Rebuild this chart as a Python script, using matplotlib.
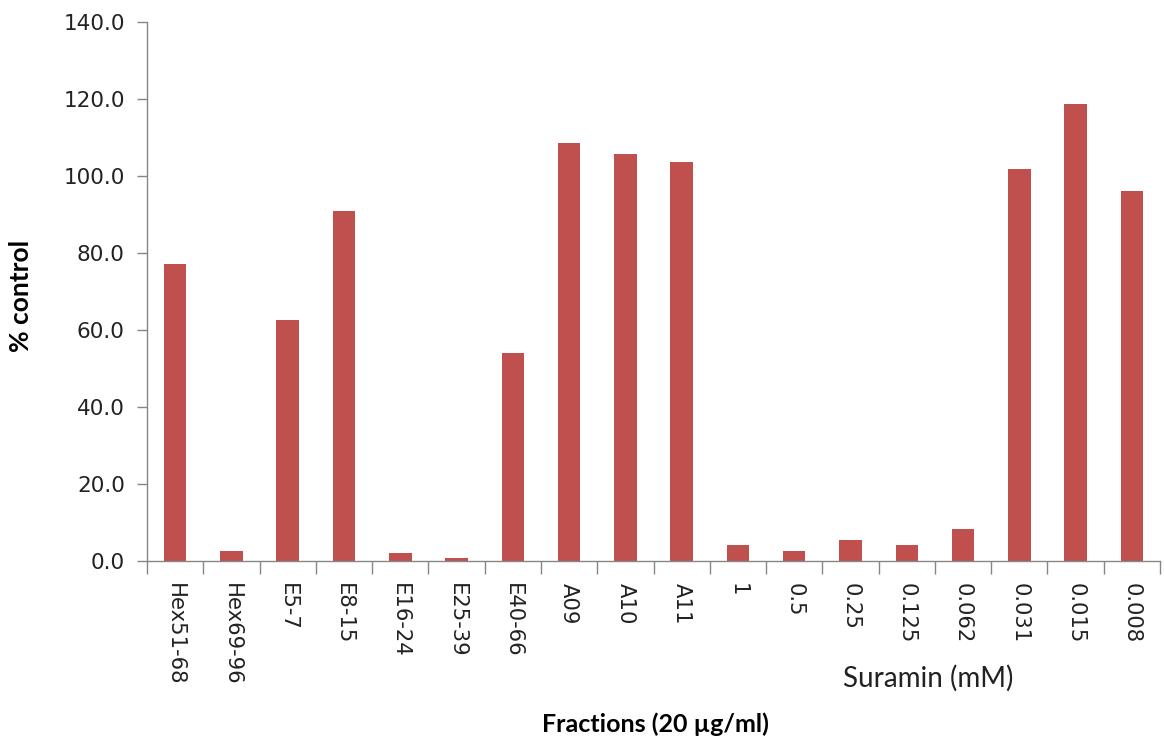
import numpy as np
import matplotlib
matplotlib.use("Agg")
import matplotlib.pyplot as plt

# fractions and suramin concentrations, values as % control
labels = ["Hex51-68", "Hex69-96", "E5-7", "E8-15", "E16-24", "E25-39", "E40-66",
          "A09", "A10", "A11",
          "1", "0.5", "0.25", "0.125", "0.062", "0.031", "0.015", "0.008"]
values = [77.1, 2.5, 62.7, 91.0, 2.1, 0.8, 54.0,
          108.6, 105.6, 103.6,
          4.1, 2.7, 5.4, 4.1, 8.4, 101.9, 118.6, 96.1]

bar_color = "#C0504D"
axis_gray = "#868686"

fig = plt.figure(figsize=(11.64, 7.4), dpi=100)
ax = fig.add_axes([0.1263, 0.2419, 0.8703, 0.7284])

x = np.arange(len(labels))
ax.bar(x, values, width=0.4, color=bar_color, zorder=2)

ax.set_xlim(-0.5, len(labels) - 0.5)
ax.set_ylim(0, 140)
ax.set_yticks(np.arange(0, 141, 20))
ax.set_yticklabels([f"{v:.1f}" for v in np.arange(0, 141, 20)],
                   fontsize=15.5, color="#222222", family="DejaVu Sans")

# category labels centred, ticks on boundaries
ax.set_xticks(x)
ax.set_xticklabels(labels, rotation=270, fontsize=15.2, color="#222222",
                   family="DejaVu Sans", va="top", ha="center")
ax.tick_params(axis="x", which="major", length=0, pad=15.5)
ax.set_xticks(np.arange(-0.5, len(labels), 1), minor=True)
ax.tick_params(axis="x", which="minor", length=9, width=1, color=axis_gray)
ax.tick_params(axis="y", length=7, width=1, color=axis_gray, pad=9)

for side in ["top", "right"]:
    ax.spines[side].set_visible(False)
for side in ["left", "bottom"]:
    ax.spines[side].set_color(axis_gray)
    ax.spines[side].set_linewidth(1)

ax.set_ylabel("% control", fontsize=19, fontweight="bold", family="Lato")
ax.yaxis.set_label_coords(-0.113, 0.492)
fig.text(0.5635, 0.021, "Fractions (20 µg/ml)", fontsize=18, fontweight="bold",
         family="Lato", ha="center", va="center")
fig.text(0.797, 0.083, "Suramin (mM)", fontsize=20, family="Lato",
         ha="center", va="center", color="#222222")

fig.savefig("out.png", dpi=100)
